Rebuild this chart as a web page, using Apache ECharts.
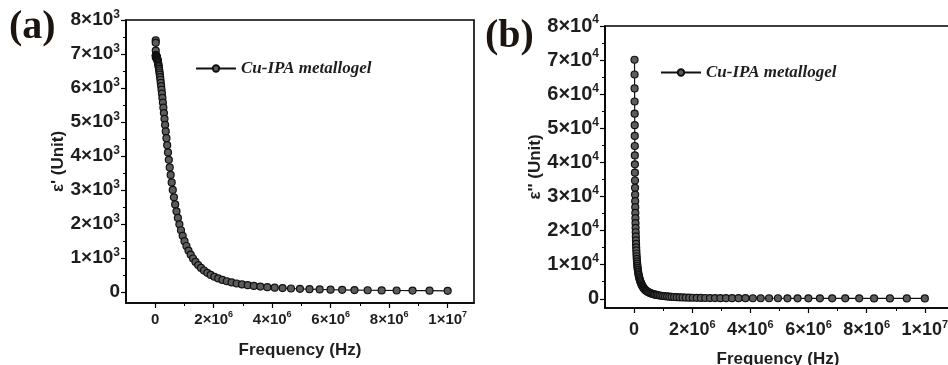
<!DOCTYPE html>
<html><head><meta charset="utf-8">
<script src="https://cdn.jsdelivr.net/npm/echarts@6/dist/echarts.min.js"></script>
<style>html,body{margin:0;padding:0;background:#fff}#c{width:948px;height:365px}</style>
</head><body><div id="c"></div>
<script>
// Frequency (Hz), ascending
const freqHz = [
 15650, 16680, 17780, 18960, 20210, 21540, 22970, 24480, 26100, 27830, 29660, 31620, 33710, 35940, 38310, 40840, 43540, 46420, 49480, 52750, 56230, 59950, 63910, 68130, 72630, 77430, 82540, 87990, 93800, 100000,
 106600, 113700, 121200, 129200, 137700, 146800, 156500, 166800, 177800, 189600, 202100, 215400, 229700, 244800, 261000, 278300, 296600, 316200, 337100, 359400, 383100, 408400, 435400, 464200, 494800, 527500, 562300, 599500, 639100, 681300, 726300, 774300, 825400, 879900, 938000, 1000000,
 1066000, 1137000, 1212000, 1292000, 1377000, 1468000, 1565000, 1668000, 1778000, 1896000, 2021000, 2154000, 2297000, 2448000, 2610000, 2783000, 2966000, 3162000, 3371000, 3594000, 3831000, 4084000, 4354000, 4642000, 4948000, 5275000, 5623000, 5995000, 6391000, 6813000, 7263000, 7743000, 8254000, 8799000, 9380000, 10000000
];
// ε' (panel a)
const epsReal = [
 7400, 7330, 7100, 6900, 6959, 6958, 6956, 6955, 6952, 6950, 6947, 6944, 6941, 6937, 6932, 6927, 6922, 6915, 6908, 6899, 6890, 6879, 6867, 6853, 6837, 6819, 6799, 6777, 6751, 6722,
 6690, 6652, 6611, 6566, 6515, 6457, 6393, 6321, 6243, 6154, 6058, 5953, 5836, 5710, 5572, 5423, 5264, 5094, 4914, 4723, 4525, 4319, 4106, 3888, 3667, 3445, 3224, 3004, 2788, 2578, 2375, 2180, 1994, 1819, 1654, 1499,
 1356, 1222, 1100, 989, 887, 795, 711, 636, 568, 506, 451, 403, 359, 320, 285, 254, 227, 203, 182, 163, 146, 131, 118, 106, 96, 87, 79, 72, 66, 60, 55, 51, 47, 44, 41, 39
];
// ε'' (panel b)
const epsImag = [
 70100, 65770, 61700, 57860, 54280, 50930, 47760, 44810, 42030, 39420, 36990, 34690, 32540, 30520, 28630, 26860, 25190, 23630, 22170, 20800, 19510, 18300, 17160, 16100, 15100, 14170, 13290, 12470, 11700, 10970,
 10290, 9650, 9050, 8490, 7970, 7470, 7010, 6580, 6170, 5790, 5430, 5090, 4780, 4480, 4150, 3840, 3560, 3290, 3050, 2820, 2610, 2420, 2240, 2070, 1920, 1780, 1650, 1530, 1410, 1310, 1210, 1120, 1040, 960, 890, 815,
 747, 684, 627, 574, 526, 482, 441, 404, 370, 339, 311, 285, 261, 239, 219, 200, 194, 188, 182, 177, 172, 166, 161, 157, 152, 147, 143, 139, 135, 131, 127, 123, 119, 116, 112, 109
];
const xTicks = [0, 2000000, 4000000, 6000000, 8000000, 10000000];
const xMinor = [1000000, 3000000, 5000000, 7000000, 9000000];
const yTicksA = [0, 1000, 2000, 3000, 4000, 5000, 6000, 7000, 8000];
const yMinorA = [500, 1500, 2500, 3500, 4500, 5500, 6500, 7500];
const yTicksB = [0, 10000, 20000, 30000, 40000, 50000, 60000, 70000, 80000];
const yMinorB = [5000, 15000, 25000, 35000, 45000, 55000, 65000, 75000];
const seriesName = 'Cu-IPA metallogel';

const FONT = 'Liberation Sans, Arial, sans-serif';
const TXT = '#1e1e1e';
function sciFmt(v) {
  if (v === 0) return '0';
  const e = Math.floor(Math.log10(v) + 1e-9);
  const m = Math.round(v / Math.pow(10, e));
  return m + '×10{s|' + e + '}';
}
function labelStyle(fs, margin, ticks) {
  return { show: true, customValues: ticks, margin: margin, formatter: sciFmt,
    fontFamily: FONT, fontWeight: 'bold', fontSize: fs, color: TXT, lineHeight: fs + 4,
    rich: { s: { fontSize: Math.round(fs * 0.62), fontFamily: FONT, fontWeight: 'bold', color: TXT, verticalAlign: 'top', lineHeight: fs + 4 } } };
}
function mainX(gi, min, max, fs, margin, nameGap) {
  return { type: 'value', gridIndex: gi, min: min, max: max, position: 'bottom',
    name: 'Frequency (Hz)', nameLocation: 'middle', nameGap: nameGap,
    nameTextStyle: { fontFamily: FONT, fontWeight: 'bold', fontSize: 17, color: TXT },
    axisLine: { show: true, onZero: false, lineStyle: { color: '#000', width: 1.6 } },
    axisTick: { show: true, inside: false, length: 5, customValues: xTicks, lineStyle: { color: '#000', width: 1.2 } },
    axisLabel: labelStyle(fs, margin, xTicks),
    splitLine: { show: false } };
}
function minorX(gi, min, max) {
  return { type: 'value', gridIndex: gi, min: min, max: max, position: 'bottom',
    axisLine: { show: false, onZero: false }, axisLabel: { show: false }, splitLine: { show: false },
    axisTick: { show: true, inside: false, length: 3, customValues: xMinor, lineStyle: { color: '#000', width: 1 } } };
}
function mainY(gi, min, max, ticks, fs, name, nameGap) {
  return { type: 'value', gridIndex: gi, min: min, max: max, position: 'left',
    name: name, nameLocation: 'middle', nameGap: nameGap, nameRotate: 90,
    nameTextStyle: { fontFamily: FONT, fontWeight: 'bold', fontSize: 17, color: TXT },
    axisLine: { show: true, onZero: false, lineStyle: { color: '#000', width: 1.6 } },
    axisTick: { show: true, inside: false, length: 5, customValues: ticks, lineStyle: { color: '#000', width: 1.2 } },
    axisLabel: labelStyle(fs, 6, ticks),
    splitLine: { show: false } };
}
function minorY(gi, min, max, ticks) {
  return { type: 'value', gridIndex: gi, min: min, max: max, position: 'left',
    axisLine: { show: false, onZero: false }, axisLabel: { show: false }, splitLine: { show: false },
    axisTick: { show: true, inside: false, length: 3, customValues: ticks, lineStyle: { color: '#000', width: 1 } } };
}
function pairs(ys) { return freqHz.map((f, i) => [f, ys[i]]); }
function lineSeries(xi, yi, ys) {
  return { name: seriesName, type: 'line', xAxisIndex: xi, yAxisIndex: yi, data: pairs(ys),
    symbol: 'circle', symbolSize: 7, showSymbol: true, clip: true,
    lineStyle: { color: '#111', width: 1.2 },
    itemStyle: { color: '#5c5c5c', borderColor: '#111', borderWidth: 1.2 } };
}
function legend(left, top) {
  return { left: left, top: top, padding: 0, itemWidth: 40, itemHeight: 8, data: [seriesName], selectedMode: false,
    textStyle: { fontFamily: 'Liberation Serif, Times New Roman, serif', fontStyle: 'italic', fontWeight: 'bold', fontSize: 17, color: TXT } };
}

const chart = echarts.init(document.getElementById('c'), null, { renderer: 'canvas' });
chart.setOption({
  animation: false,
  backgroundColor: '#fff',
  grid: [
    { left: 126, top: 20, width: 348, height: 283, show: true, borderColor: '#000', borderWidth: 1.6, backgroundColor: 'transparent', outerBoundsMode: 'none', containLabel: false },
    { left: 605, top: 26, width: 346, height: 282, show: true, borderColor: '#000', borderWidth: 1.6, backgroundColor: 'transparent', outerBoundsMode: 'none', containLabel: false }
  ],
  xAxis: [ mainX(0, -1000000, 10900000, 15, 7, 39), minorX(0, -1000000, 10900000),
           mainX(1, -1000000, 10900000, 18, 11, 43), minorX(1, -1000000, 10900000) ],
  yAxis: [ mainY(0, -320, 8000, yTicksA, 19, "ε' (Unit)", 54), minorY(0, -320, 8000, yMinorA),
           mainY(1, -2700, 80000, yTicksB, 20, "ε'' (Unit)", 58), minorY(1, -2700, 80000, yMinorB) ],
  legend: [ legend(195, 60), legend(660, 64) ],
  series: [ lineSeries(0, 0, epsReal), lineSeries(2, 2, epsImag) ],
  graphic: [
    { type: 'text', left: 9, top: 8, style: { text: '(a)', font: 'bold 40px Liberation Serif, Times New Roman, serif', fill: '#1c140e' } },
    { type: 'text', left: 485, top: 17, style: { text: '(b)', font: 'bold 40px Liberation Serif, Times New Roman, serif', fill: '#1c140e' } }
  ]
});
</script></body></html>
